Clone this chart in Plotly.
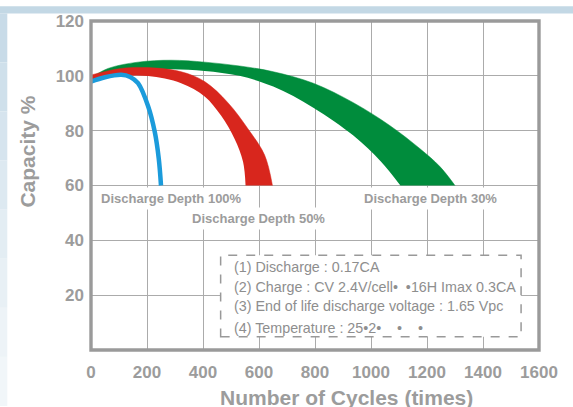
import plotly.graph_objects as go

# ---------------- data ----------------
x_ticks = [0, 200, 400, 600, 800, 1000, 1200, 1400, 1600]
y_ticks = [20, 40, 60, 80, 100, 120]

# Discharge depth 100% (blue, thin line)
blue_x = [0, 50, 108, 140, 168, 204, 228, 242, 250]
blue_y = [97.9, 99.5, 100.4, 99.6, 97.3, 88.9, 79.4, 69.8, 60.0]

# Discharge depth 50% (red band)
red_in_x = [0, 108, 204, 322, 406, 465, 513, 543, 552]
red_in_y = [98.7, 99.9, 99.9, 97.3, 92.5, 85.4, 77.0, 68.7, 60.0]
red_out_x = [0, 108, 204, 322, 406, 489, 561, 620, 648]
red_out_y = [100.3, 102.7, 103.0, 101.5, 97.9, 90.2, 80.6, 71.1, 60.0]

# Discharge depth 30% (green band)
green_in_x = [0, 60, 168, 290, 406, 530, 651, 794, 937, 1036, 1105]
green_in_y = [97.5, 100.3, 102.0, 102.4, 101.8, 100.0, 96.1, 88.4, 78.2, 68.7, 60.0]
green_out_x = [0, 61, 168, 287, 406, 530, 651, 794, 937, 1068, 1175, 1246, 1300]
green_out_y = [99.3, 102.7, 105.0, 105.7, 105.0, 103.6, 101.5, 97.3, 90.2, 81.8, 73.4, 66.9, 60.0]

curve_labels = ["Discharge Depth 100%", "Discharge Depth 50%", "Discharge Depth 30%"]
label_x = [286, 598, 1212]
label_y = [55.2, 48.0, 55.2]

note_lines = [
    "(1) Discharge : 0.17CA",
    "(2) Charge : CV 2.4V/cell\u2022  \u202216H Imax 0.3CA",
    "(3) End of life discharge voltage : 1.65 Vpc",
    "(4) Temperature : 25\u20222\u2022    \u2022    \u2022",
]
note_y = [30.1, 23.0, 15.9, 8.2]
note_x = 502

# ---------------- styling ----------------
W, H = 573, 407
L, R, T, B = 91, 34, 15, 57
PW, PH = W - L - R, H - T - B
GRAY = "#9c9c9c"
TXT = "#8e8e8e"
FONT = "Liberation Sans, Arial, sans-serif"
SMOOTH = 1.0

def px2paper_x(px):
    return (px - L) / PW

def px2paper_y(py):
    return (H - B - py) / PH

fig = go.Figure()

fig.add_trace(go.Scatter(x=green_in_x, y=green_in_y, mode="lines",
                         line=dict(width=0, color="#008c3c", shape="spline", smoothing=SMOOTH),
                         hoverinfo="skip", showlegend=False))
fig.add_trace(go.Scatter(x=green_out_x, y=green_out_y, mode="lines", fill="tonexty",
                         fillcolor="#008c3c",
                         line=dict(width=0.5, color="#008c3c", shape="spline", smoothing=SMOOTH),
                         hoverinfo="skip", showlegend=False))
fig.add_trace(go.Scatter(x=red_in_x, y=red_in_y, mode="lines",
                         line=dict(width=0, color="#d8261d", shape="spline", smoothing=SMOOTH),
                         hoverinfo="skip", showlegend=False))
fig.add_trace(go.Scatter(x=red_out_x, y=red_out_y, mode="lines", fill="tonexty",
                         fillcolor="#d8261d",
                         line=dict(width=0.5, color="#d8261d", shape="spline", smoothing=SMOOTH),
                         hoverinfo="skip", showlegend=False))
fig.add_trace(go.Scatter(x=blue_x, y=blue_y, mode="lines",
                         line=dict(width=4.5, color="#1b9bdb", shape="spline", smoothing=SMOOTH),
                         hoverinfo="skip", showlegend=False))

shapes = []
# background strips (top band and left gradient strip)
shapes.append(dict(type="rect", xref="paper", yref="paper",
                   x0=px2paper_x(0), x1=px2paper_x(W), y0=px2paper_y(7.3), y1=px2paper_y(0),
                   fillcolor="#c3d8e5", line=dict(width=0), layer="below"))
strip_cols = ["#c8dbe8", "#cfe0eb", "#d6e4ee", "#dde9f1", "#e3edf3", "#e8f0f5", "#edf3f7", "#f1f6f9"]
n = len(strip_cols)
for i, c in enumerate(strip_cols):
    y0p = 7.3 + (H - 7.3) * i / n
    y1p = 7.3 + (H - 7.3) * (i + 1) / n
    shapes.append(dict(type="rect", xref="paper", yref="paper",
                       x0=px2paper_x(0), x1=px2paper_x(7.3), y0=px2paper_y(y1p), y1=px2paper_y(y0p),
                       fillcolor=c, line=dict(width=0), layer="below"))
# plot frame (paper refs so it is not clipped)
shapes.append(dict(type="rect", xref="paper", yref="paper", x0=0, x1=1, y0=0, y1=1,
                   line=dict(color="#9a9a9a", width=3.4), layer="above"))
# dashed note box
shapes.append(dict(type="rect", xref="x", yref="y", x0=463, x1=1536, y0=4.8, y1=34.6,
                   fillcolor="white", line=dict(color="#999999", width=1.5, dash="dash"),
                   layer="above"))

annotations = []
for t, xv, yv in zip(curve_labels, label_x, label_y):
    annotations.append(dict(x=xv, y=yv, xref="x", yref="y", text=t, showarrow=False,
                            font=dict(family=FONT, size=13, color=GRAY, weight="bold"),
                            bgcolor="white", borderpad=3, xanchor="center", yanchor="middle"))
for t, yv in zip(note_lines, note_y):
    annotations.append(dict(x=note_x, y=yv, xref="x", yref="y", text=t, showarrow=False,
                            font=dict(family=FONT, size=14.3, color=TXT),
                            xanchor="left", yanchor="middle"))
# axis titles
annotations.append(dict(x=px2paper_x(28), y=px2paper_y(148), xref="paper", yref="paper",
                        text="Capacity %", textangle=-90, showarrow=False,
                        font=dict(family=FONT, size=21, color=GRAY, weight="bold"),
                        xanchor="center", yanchor="middle"))
annotations.append(dict(x=px2paper_x(346), y=px2paper_y(398), xref="paper", yref="paper",
                        text="Number of Cycles (times)", showarrow=False,
                        font=dict(family=FONT, size=21, color=GRAY, weight="bold"),
                        xanchor="center", yanchor="middle"))

fig.update_layout(
    width=W, height=H,
    margin=dict(l=L, r=R, t=T, b=B, pad=0),
    paper_bgcolor="white", plot_bgcolor="white",
    shapes=shapes, annotations=annotations,
    showlegend=False,
    xaxis=dict(range=[0, 1600], tickvals=x_ticks, ticktext=[str(v) for v in x_ticks],
               showgrid=True, gridcolor="#ababab", gridwidth=1.4, zeroline=False,
               showline=False, ticks="", ticklabelstandoff=10,
               tickfont=dict(family=FONT, size=17, color=GRAY, weight="bold"), fixedrange=True),
    yaxis=dict(range=[0, 120], tickvals=y_ticks, ticktext=[str(v) for v in y_ticks],
               showgrid=True, gridcolor="#ababab", gridwidth=1.4, zeroline=False,
               showline=False, ticks="", ticklabelstandoff=6,
               tickfont=dict(family=FONT, size=17, color=GRAY, weight="bold"), fixedrange=True),
)

fig.write_html("out.html", config={"displayModeBar": False},
               post_script="document.body.style.margin='0px';document.body.style.overflow='hidden';")
